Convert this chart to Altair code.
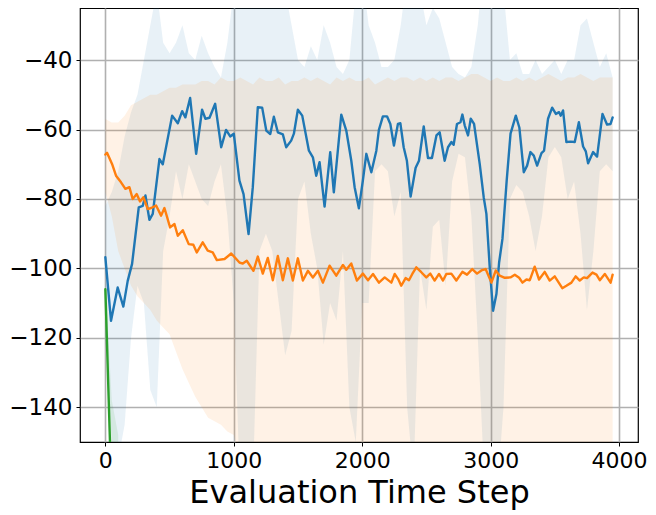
import altair as alt
import pandas as pd

# ---------------- data ----------------
BLUE_X = [0, 44, 96, 140, 174, 208, 260, 291, 312, 343, 369, 421, 447, 520, 564, 598, 623, 660, 707, 753,
          779, 811, 855, 902, 940, 972, 1000, 1044, 1076, 1115, 1148, 1187, 1221, 1253, 1284, 1312, 1343, 1382, 1408, 1447,
          1468, 1499, 1533, 1585, 1616, 1642, 1668, 1707, 1751, 1779, 1837, 1876, 1915, 1941, 1974, 2005, 2032, 2071, 2110, 2130,
          2161, 2193, 2219, 2247, 2278, 2297, 2323, 2348, 2377, 2416, 2442, 2479, 2512, 2543, 2578, 2603, 2642, 2668, 2695, 2712,
          2738, 2765, 2780, 2798, 2824, 2845, 2871, 2915, 2946, 2967, 2993, 3019, 3045, 3066, 3092, 3125, 3155, 3196, 3224, 3258,
          3284, 3310, 3336, 3362, 3396, 3416, 3447, 3479, 3508, 3533, 3546, 3564, 3590, 3622, 3655, 3687, 3720, 3741, 3759, 3798,
          3829, 3871, 3907, 3934, 3950]
BLUE_Y = [-96.8, -115.1, -105.5, -111, -103.6, -98.7, -82.4, -82, -79, -86, -84.3, -68.5, -70, -56, -58.2, -54.7, -56.5, -50.9, -67, -54.3,
          -56.9, -56.6, -52.6, -65.1, -60.1, -62, -61.2, -74.7, -78.6, -90.1, -76.6, -53.6, -53.7, -60.3, -61.3, -56.3, -60.8, -61.4, -65.1, -63.2,
          -61.2, -54.3, -56, -66.1, -68, -73.3, -69.4, -82.2, -66.5, -78.1, -55.7, -60.3, -69, -76.6, -82.7, -74.7, -67, -72.3, -66.1, -60.1,
          -56.2, -56.2, -58.4, -64.6, -58.4, -58.2, -65.1, -69, -79.3, -71, -69, -59.1, -68.2, -68.2, -61.7, -60.8, -69, -65.1, -63.6, -64.4,
          -58.4, -57.9, -55.7, -58.8, -61.7, -56.9, -58.4, -69.9, -79.5, -84.3, -99.7, -112.2, -107.4, -98.3, -91.5, -74.7, -61.2, -56, -59.5, -72.3,
          -70.4, -66.5, -67.5, -70.4, -66.8, -66.1, -56.9, -53.7, -55.5, -55, -56, -54.5, -63.6, -63.5, -63.6, -57.9, -64.9, -66.3, -69.7, -66.5,
          -67.8, -55.5, -58.6, -58.4, -56.5]

ORANGE_X = [0, 13, 52, 83, 122, 156, 187, 213, 244, 270, 296, 330, 356, 395, 434, 460, 504, 538, 564, 603,
            649, 685, 712, 758, 797, 836, 868, 928, 980, 1044, 1070, 1101, 1153, 1187, 1226, 1265, 1304, 1343, 1382, 1421,
            1460, 1499, 1538, 1577, 1616, 1655, 1694, 1746, 1798, 1850, 1876, 1915, 1959, 2005, 2045, 2084, 2130, 2175, 2227, 2253,
            2279, 2304, 2338, 2364, 2390, 2421, 2460, 2499, 2530, 2564, 2598, 2629, 2655, 2694, 2733, 2780, 2816, 2857, 2894, 2928,
            2961, 3006, 3040, 3071, 3110, 3154, 3188, 3222, 3248, 3279, 3305, 3343, 3377, 3421, 3460, 3499, 3558, 3590, 3629, 3662,
            3694, 3725, 3751, 3793, 3824, 3850, 3889, 3934, 3950]
ORANGE_Y = [-67.2, -66.7, -69.9, -73.3, -75.2, -77.1, -76.6, -80, -78.6, -80.7, -79.5, -82.9, -82.6, -81.9, -84.8, -82.6, -88.2, -87.2, -90.6, -89,
            -93, -93.2, -95.4, -92.5, -94.9, -95.4, -97.6, -97.3, -95.7, -98.3, -98.6, -97.8, -100.7, -96.6, -101.5, -97, -103.4, -96.4, -103.4, -97.1,
            -103.5, -97.1, -103.5, -100.7, -102.6, -100.7, -104.1, -99.2, -102.1, -99, -100.4, -98.6, -103.5, -101.5, -103.4, -101.6, -104.1, -102.6, -104.1, -101.6,
            -103, -105, -102.8, -103.4, -101.6, -99.7, -101.1, -102.6, -101.5, -103.5, -101.6, -103.5, -101.6, -101.5, -103.5, -101, -101.8, -100.2, -101.5, -100.6,
            -100.2, -104.1, -100.6, -102.1, -102.7, -102.6, -101.8, -102.7, -104.1, -103.2, -103.4, -99.5, -103.2, -101, -103.5, -102.3, -105.7, -105, -104.1, -102.3,
            -103.5, -102.6, -102.8, -101.2, -101.8, -103.4, -101.6, -104.1, -101.8]

GREEN_X = [0, 36, 70]
GREEN_Y = [-106, -150, -190]

BAND_X = list(range(0, 4000, 50))
BLUE_HI = [-82, -78, -72, -62, -55, -50, -40, -30, -20, -35,
           -38, -35, -30, -38, -40, -33, -38, -42, -45, -35,
           -20, -10, -10, -20, -10, -10, -15, -10, -20, -30,
           -40, -42, -36, -40, -30, -35, -42, -44, -40, -20,
           -15, -30, -35, -42, -42, -40, -30, -15, -15, -20,
           -30, -25, -28, -35, -42, -44, -45, -42, -30, -10,
           -10, -10, -20, -40, -38, -44, -44, -40, -44, -42,
           -40, -44, -40, -40, -30, -28, -35, -42, -38, -45]
BLUE_LO = [-120, -150, -155, -145, -120, -105, -110, -135, -140, -95,
           -85, -72, -80, -70, -75, -80, -82, -75, -70, -85,
           -110, -165, -170, -160, -95, -90, -95, -110, -125, -118,
           -80, -75, -90, -100, -122, -110, -115, -95, -140, -150,
           -110, -110, -72, -70, -72, -85, -78, -140, -160, -100,
           -112, -88, -86, -105, -75, -67, -68, -85, -120, -160,
           -170, -165, -140, -80, -76, -78, -85, -95, -85, -68,
           -65, -68, -80, -75, -90, -112, -95, -72, -70, -72]
ORANGE_HI = [-57, -58, -58, -56, -53, -52, -51, -50, -50, -49,
             -48, -48, -47, -47, -47, -46, -46, -47, -45, -46,
             -46, -45, -46, -47, -45, -46, -46, -45, -47, -46,
             -46, -45, -46, -45, -46, -47, -45, -46, -45, -46,
             -46, -45, -47, -46, -45, -46, -45, -45, -46, -45,
             -46, -45, -46, -45, -45, -46, -45, -44, -44, -45,
             -46, -45, -46, -46, -45, -46, -45, -46, -45, -44,
             -45, -46, -45, -45, -44, -45, -46, -45, -45, -45]
ORANGE_LO = [-78, -85, -95, -100, -105, -108, -110, -112, -115, -117,
             -119, -124, -129, -133, -137, -140, -143, -144, -145, -147,
             -148, -155, -165, -165, -165, -165, -165, -165, -165, -165,
             -165, -165, -165, -165, -165, -165, -165, -165, -165, -165,
             -165, -165, -165, -165, -165, -165, -165, -165, -165, -165,
             -165, -165, -165, -165, -165, -165, -165, -165, -165, -165,
             -165, -165, -165, -165, -165, -165, -165, -165, -165, -165,
             -165, -165, -165, -165, -165, -165, -165, -165, -165, -165]
GREEN_BX = [0, 50, 100]
GREEN_HI = [-104, -138, -148]
GREEN_LO = [-108, -180, -200]

BLUE = "#1f77b4"
ORANGE = "#ff7f0e"
GREEN = "#2ca02c"

blue_band = pd.DataFrame({"x": BAND_X, "lo": BLUE_LO, "hi": BLUE_HI})
orange_band = pd.DataFrame({"x": BAND_X, "lo": ORANGE_LO, "hi": ORANGE_HI})
green_band = pd.DataFrame({"x": GREEN_BX, "lo": GREEN_LO, "hi": GREEN_HI})
blue_line = pd.DataFrame({"x": BLUE_X, "y": BLUE_Y})
orange_line = pd.DataFrame({"x": ORANGE_X, "y": ORANGE_Y})
green_line = pd.DataFrame({"x": GREEN_X, "y": GREEN_Y})

xscale = alt.Scale(domain=[-197.5, 4147.5], nice=False, zero=False)
yscale = alt.Scale(domain=[-150, -25], nice=False, zero=False)
xaxis = alt.Axis(values=[0, 1000, 2000, 3000, 4000], format="d", title="Evaluation Time Step",
                 titlePadding=6, labelFontSize=22)
yaxis = alt.Axis(values=[-140, -120, -100, -80, -60, -40], format="d", title="",
                 labelFontSize=23)


def band(df, color):
    return alt.Chart(df).mark_area(color=color, opacity=0.1, clip=True).encode(
        x=alt.X("x:Q", scale=xscale, axis=xaxis),
        y=alt.Y("lo:Q", scale=yscale, axis=yaxis),
        y2="hi:Q",
    )


def line(df, color):
    return alt.Chart(df).mark_line(color=color, strokeWidth=2.4, strokeJoin="round",
                                   strokeCap="round", clip=True).encode(
        x=alt.X("x:Q", scale=xscale, axis=xaxis),
        y=alt.Y("y:Q", scale=yscale, axis=yaxis),
    )


chart = alt.layer(
    band(blue_band, BLUE),
    band(orange_band, ORANGE),
    band(green_band, GREEN),
    line(blue_line, BLUE),
    line(orange_line, ORANGE),
    line(green_line, GREEN),
).properties(
    width=558,
    height=434,
    autosize=alt.AutoSizeParams(type="none"),
    padding={"left": 72, "top": 0, "right": 10, "bottom": 70},
).configure_axis(
    labelFont="DejaVu Sans",
    labelColor="black",
    tickColor="black",
    tickSize=4,
    tickWidth=1,
    labelPadding=4,
    domain=False,
    gridColor="#b0b0b0",
    gridWidth=1.6,
    gridOpacity=1,
    titleFont="DejaVu Sans",
    titleFontSize=32,
    titleFontWeight="normal",
    titleColor="black",
).configure_view(stroke="black", strokeWidth=1.2)

chart.save("out.html", embed_options={"renderer": "svg", "actions": False})
